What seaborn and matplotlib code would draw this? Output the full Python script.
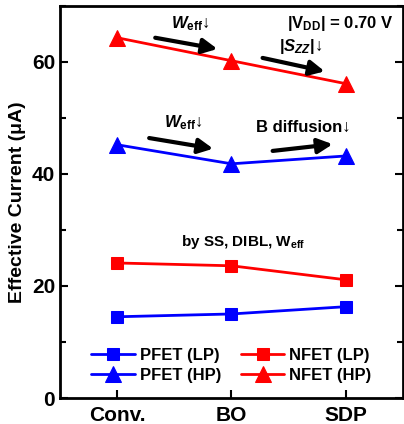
import matplotlib
matplotlib.use("Agg")
import matplotlib.pyplot as plt
import seaborn as sns
import pandas as pd
from matplotlib.ticker import MultipleLocator

categories = ["Conv.", "BO", "SDP"]
pfet_lp = [14.5, 15.0, 16.3]
nfet_lp = [24.1, 23.6, 21.1]
pfet_hp = [45.2, 41.8, 43.2]
nfet_hp = [64.3, 60.2, 56.1]

sns.set_theme(style="ticks")
plt.rcParams['font.family'] = ['Liberation Sans', 'DejaVu Sans']
plt.rcParams['font.weight'] = 'bold'
plt.rcParams['mathtext.fontset'] = 'custom'
plt.rcParams['mathtext.rm'] = 'Liberation Sans:bold'
plt.rcParams['mathtext.bf'] = 'Liberation Sans:bold'
plt.rcParams['mathtext.it'] = 'Liberation Sans:bold:italic'
for k in ['text.color', 'axes.edgecolor', 'axes.labelcolor', 'xtick.color',
          'ytick.color', 'xtick.labelcolor', 'ytick.labelcolor']:
    plt.rcParams[k] = 'black'

fig = plt.figure(figsize=(4.04, 4.24), dpi=100)
ax = fig.add_axes([0.1485, 0.0613, 0.849, 0.925])

series = [
    ("PFET (LP)", pfet_lp, "blue", "s", 9),
    ("PFET (HP)", pfet_hp, "blue", "^", 11),
    ("NFET (LP)", nfet_lp, "red", "s", 9),
    ("NFET (HP)", nfet_hp, "red", "^", 11),
]
for name, vals, col, mk, ms in series:
    df = pd.DataFrame({"x": list(range(len(categories))), "y": vals})
    sns.lineplot(data=df, x="x", y="y", ax=ax, color=col, marker=mk,
                 markersize=ms, markeredgecolor=col, linewidth=2, label=name)

ax.set_xlim(-0.5, 2.5)
ax.set_ylim(0, 70)
ax.set_xticks(range(len(categories)))
ax.set_xticklabels(categories)
ax.yaxis.set_major_locator(MultipleLocator(20))
ax.yaxis.set_minor_locator(MultipleLocator(10))
ax.tick_params(axis='both', which='major', direction='in', length=6, width=1.5,
               labelsize=15, right=True, color='black', labelcolor='black')
ax.tick_params(axis='y', which='minor', direction='in', length=4, width=1.5, right=True,
               color='black')
ax.tick_params(axis='x', pad=6)
for lab in ax.get_xticklabels() + ax.get_yticklabels():
    lab.set_fontweight('bold')
for sp in ax.spines.values():
    sp.set_linewidth(2)
    sp.set_visible(True)
    sp.set_color('black')
ax.set_xlabel("")
ax.set_ylabel("Effective Current (μA)", fontsize=14, fontweight='bold', labelpad=4,
              color='black')

aprops = dict(arrowstyle='-|>', lw=3, mutation_scale=22, color='black', shrinkA=0, shrinkB=0)
arrows = [((0.333, 64.3), (0.877, 62.3)),
          ((1.272, 60.7), (1.815, 58.3)),
          ((0.28, 46.4), (0.84, 44.5)),
          ((1.36, 44.1), (1.885, 45.3))]
for (x0, y0), (x1, y1) in arrows:
    ax.annotate("", xy=(x1, y1), xytext=(x0, y0), arrowprops=aprops)

tk = dict(fontsize=12, fontweight='bold', ha='center', va='center', color='black')
ax.text(0.64, 66.8, r"$W_{\rm eff}$↓", **tk)
ax.text(1.605, 62.7, r"$|S_{ZZ}|$↓", **tk)
ax.text(2.42, 66.9, r"$|{\rm V}_{\rm DD}|$ = 0.70 V", fontsize=12, fontweight='bold',
        ha='right', va='center', color='black')
ax.text(0.58, 49.1, r"$W_{\rm eff}$↓", **tk)
ax.text(1.63, 48.2, "B diffusion↓", **tk)
ax.text(1.10, 27.9, r"by SS, DIBL, ${\rm W}_{\rm eff}$", fontsize=11, fontweight='bold',
        ha='center', va='center', color='black')

leg = ax.legend(ncol=2, loc='lower center', bbox_to_anchor=(0.5, 0.0), frameon=False,
                prop={'weight': 'bold', 'size': 12}, handlelength=2.6, columnspacing=1.2,
                labelspacing=0.3, handletextpad=0.3)
for t in leg.get_texts():
    t.set_color('black')

fig.savefig("out.png", dpi=100)
